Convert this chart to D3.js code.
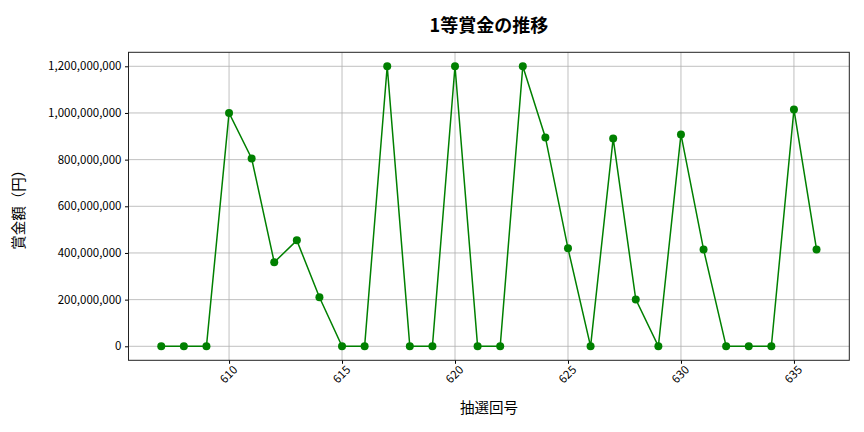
<!DOCTYPE html>
<html>
<head>
<meta charset="utf-8">
<script src="https://cdn.jsdelivr.net/npm/d3@7"></script>
<style>
  body { margin: 0; background: #fff; }
  text { font-family: "Noto Sans CJK JP", "Noto Sans", sans-serif; }
</style>
</head>
<body>
<div id="chart"></div>
<script>
// 抽選回号
const draws = [607, 608, 609, 610, 611, 612, 613, 614, 615, 616, 617, 618, 619, 620, 621,
  622, 623, 624, 625, 626, 627, 628, 629, 630, 631, 632, 633, 634, 635, 636];
// 1等賞金 (円)
const prizes = [0, 0, 0, 1000000000, 805000000, 360000000, 454000000, 210000000, 0, 0,
  1200000000, 0, 0, 1200000000, 0, 0, 1200000000, 895000000, 420000000, 0,
  891000000, 201000000, 0, 908000000, 415000000, 0, 0, 0, 1015000000, 415000000];
const xTicks = [610, 615, 620, 625, 630, 635];
const yTicks = [0, 200000000, 400000000, 600000000, 800000000, 1000000000, 1200000000];

const svgWidth = 864, svgHeight = 432;
const margin = {top: 52.3, right: 14.7, bottom: 71.7, left: 128.5};
const width = svgWidth - margin.left - margin.right;
const height = svgHeight - margin.top - margin.bottom;

const data = draws.map((d, i) => ({draw: d, prize: prizes[i]}));

const svg = d3.select('#chart').append('svg')
  .attr('width', svgWidth)
  .attr('height', svgHeight);

const g = svg.append('g')
  .attr('transform', `translate(${margin.left},${margin.top})`);

// matplotlib style 5% padding
const xExt = d3.extent(draws), yExt = [0, d3.max(prizes)];
const xPad = (xExt[1] - xExt[0]) * 0.05, yPad = (yExt[1] - yExt[0]) * 0.05;

const x = d3.scaleLinear().domain([xExt[0] - xPad, xExt[1] + xPad]).range([0, width]);
const y = d3.scaleLinear().domain([yExt[0] - yPad, yExt[1] + yPad]).range([height, 0]);

// grid
g.append('g').selectAll('line').data(xTicks).enter().append('line')
  .attr('x1', d => x(d)).attr('x2', d => x(d))
  .attr('y1', 0).attr('y2', height)
  .attr('stroke', '#b0b0b0').attr('stroke-width', 0.8);
g.append('g').selectAll('line').data(yTicks).enter().append('line')
  .attr('y1', d => y(d)).attr('y2', d => y(d))
  .attr('x1', 0).attr('x2', width)
  .attr('stroke', '#b0b0b0').attr('stroke-width', 0.8);

// axes
const xAxis = g.append('g')
  .attr('transform', `translate(0,${height})`)
  .call(d3.axisBottom(x).tickValues(xTicks).tickFormat(d3.format('d')).tickSize(3.5).tickPadding(3));
xAxis.select('.domain').remove();
xAxis.selectAll('text')
  .attr('font-size', 11.5)
  .attr('fill', '#000')
  .attr('text-anchor', 'end')
  .attr('dx', '-0.1em').attr('dy', '0.6em')
  .attr('transform', 'rotate(-45)');

const yAxis = g.append('g')
  .call(d3.axisLeft(y).tickValues(yTicks).tickFormat(d3.format(',')).tickSize(3.5).tickPadding(3.5));
yAxis.select('.domain').remove();
yAxis.selectAll('text').attr('font-size', 11.5).attr('fill', '#000');

// frame
g.append('rect')
  .attr('width', width).attr('height', height)
  .attr('fill', 'none').attr('stroke', '#222').attr('stroke-width', 1);

// line + markers
const line = d3.line().x(d => x(d.draw)).y(d => y(d.prize));
g.append('path').datum(data)
  .attr('d', line)
  .attr('fill', 'none')
  .attr('stroke', 'green')
  .attr('stroke-width', 1.5);

g.selectAll('circle').data(data).enter().append('circle')
  .attr('cx', d => x(d.draw))
  .attr('cy', d => y(d.prize))
  .attr('r', 4)
  .attr('fill', 'green');

// titles
svg.append('text')
  .attr('x', margin.left + width / 2).attr('y', 31.5)
  .attr('text-anchor', 'middle')
  .attr('font-size', 18).attr('font-weight', 'bold')
  .text('1等賞金の推移');

svg.append('text')
  .attr('x', margin.left + width / 2).attr('y', 413)
  .attr('text-anchor', 'middle')
  .attr('font-size', 14.5)
  .text('抽選回号');

svg.append('text')
  .attr('transform', `translate(24,${margin.top + height / 2}) rotate(-90)`)
  .attr('text-anchor', 'middle')
  .attr('font-size', 14.5)
  .text('賞金額（円）');
</script>
</body>
</html>
